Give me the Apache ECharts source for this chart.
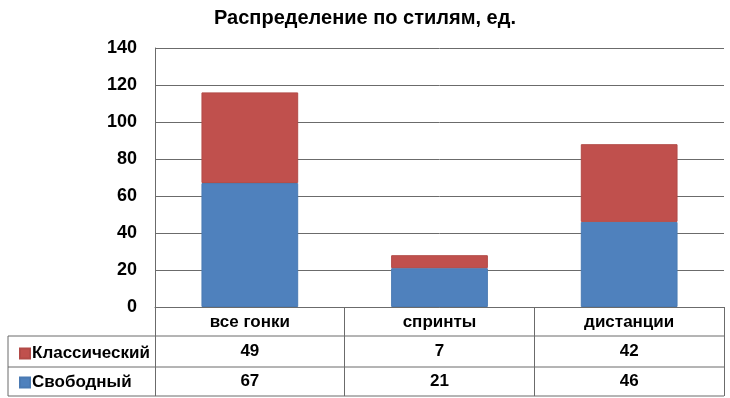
<!DOCTYPE html>
<html><head><meta charset="utf-8">
<script src="https://cdn.jsdelivr.net/npm/echarts@6/dist/echarts.min.js"></script>
<style>html,body{margin:0;padding:0;background:#fff}#c{width:730px;height:398px}</style>
</head><body><div id="c"></div>
<script>
const title = 'Распределение по стилям, ед.';
const categories = ['все гонки', 'спринты', 'дистанции'];
const seriesNames = ['Свободный', 'Классический'];
const freeValues = [67, 21, 46];
const classicValues = [49, 7, 42];
const yTicks = {min: 0, max: 140, interval: 20};

const FONT = '"Liberation Sans", Arial, sans-serif';
const lineColor = '#6b6b6b';
const chart = echarts.init(document.getElementById('c'));
const gl = 155, gr = 724, gt = 48, gb = 307;
const rowY = [336, 367, 396];
const hLines = [];
rowY.forEach(y => hLines.push({type:'line', shape:{x1:8,y1:y,x2:gr,y2:y}, style:{stroke:lineColor, lineWidth:1}, silent:true}));
hLines.push({type:'line', shape:{x1:8,y1:336,x2:8,y2:396}, style:{stroke:lineColor, lineWidth:1}, silent:true});
const tableText = {fontFamily: FONT, fontSize: 17, fontWeight: 'bold', color: '#000'};

chart.setOption({
  animation: false,
  title: {text: title, left: 'center', top: 3, textStyle:{fontFamily: FONT, fontSize: 20, fontWeight: 'bold', color: '#000'}},
  grid: {left: gl, right: 730 - gr, top: gt, bottom: 398 - gb},
  legend: {
    data: ['Классический', 'Свободный'], orient: 'vertical', left: 14, top: 340, itemGap: 12,
    itemWidth: 10, itemHeight: 10, icon: 'rect', selectedMode: false,
    textStyle: Object.assign({padding: [0,0,0,-3]}, tableText)
  },
  xAxis: [
    {type: 'category', data: categories, position: 'bottom',
     axisLine: {lineStyle: {color: lineColor}},
     axisTick: {show: true, length: 89, lineStyle: {color: lineColor}},
     axisLabel: Object.assign({margin: 15, verticalAlign: 'middle'}, tableText)},
    {type: 'category', data: classicValues.map(String), position: 'bottom', gridIndex: 0,
     axisLine: {show: false}, axisTick: {show: false},
     axisLabel: Object.assign({margin: 44, verticalAlign: 'middle'}, tableText)},
    {type: 'category', data: freeValues.map(String), position: 'bottom', gridIndex: 0,
     axisLine: {show: false}, axisTick: {show: false},
     axisLabel: Object.assign({margin: 74, verticalAlign: 'middle'}, tableText)}
  ],
  yAxis: {type: 'value', min: yTicks.min, max: yTicks.max, interval: yTicks.interval,
    axisLine: {show: true, lineStyle: {color: lineColor}}, axisTick: {show: false},
    splitLine: {lineStyle: {color: lineColor}},
    axisLabel: {margin: 18, fontFamily: FONT, fontSize: 18, fontWeight: 'bold', color: '#000'}},
  graphic: hLines,
  series: [
    {name: seriesNames[0], type: 'bar', stack: 's', data: freeValues, barWidth: '51%',
     itemStyle: {color: '#4F81BD', borderColor: '#4a7ab3', borderWidth: 1}},
    {name: seriesNames[1], type: 'bar', stack: 's', data: classicValues, barWidth: '51%',
     itemStyle: {color: '#C0504D', borderColor: '#b24a47', borderWidth: 1}}
  ]
});
</script></body></html>
